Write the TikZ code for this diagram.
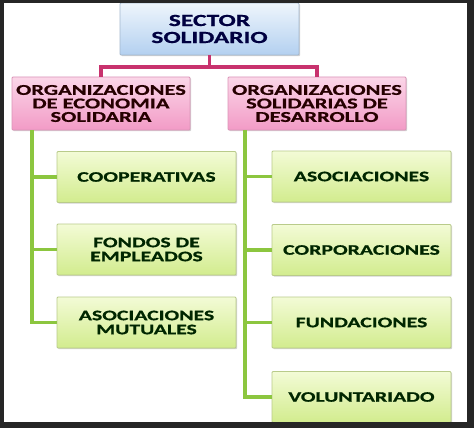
\documentclass[tikz,border=0pt]{standalone}
\usepackage{fontspec}
\setmainfont{Carlito}[FakeStretch=1.5, BoldFeatures={FakeBold=0.8}]
\usetikzlibrary{shadows}

\definecolor{bluetop}{HTML}{EEF5FC}
\definecolor{bluebot}{HTML}{B3D0F0}
\definecolor{pinktop}{HTML}{FBD6E8}
\definecolor{pinkbot}{HTML}{F29BC6}
\definecolor{greentop}{HTML}{F3FBD6}
\definecolor{greenbot}{HTML}{D2EC8E}
\definecolor{pinkline}{HTML}{C8326E}
\definecolor{greenline}{HTML}{8CC63F}

\tikzset{
  box/.style={draw, rounded corners=1pt, line width=0.8pt, align=center,
    inner sep=1pt, drop shadow={shadow xshift=1.2pt, shadow yshift=-1.2pt, opacity=.35}},
  topbox/.style={box, draw=bluebot!70!gray, top color=bluetop, bottom color=bluebot,
    minimum width=179pt, minimum height=52pt, text width=176pt, text=blue!25!black,
    font=\bfseries\fontsize{17}{17}\selectfont},
  midbox/.style={box, draw=pinkbot!80!gray, top color=pinktop, bottom color=pinkbot,
    minimum width=178pt, minimum height=53pt, text width=176pt, text=black!85!red,
    font=\bfseries\fontsize{15}{13.5}\selectfont},
  leafbox/.style={box, draw=greenbot!70!gray, top color=greentop, bottom color=greenbot,
    minimum width=179pt, minimum height=51pt, text width=176pt, text=green!15!black,
    font=\bfseries\fontsize{14.5}{14}\selectfont},
  pinkwire/.style={draw=pinkline, line width=3.4pt},
  greenwire/.style={draw=greenline, line width=3.4pt}
}

\begin{document}
\begin{tikzpicture}[x=1pt, y=-1pt]
    % frame
    \fill[black!85] (0, 0) rectangle (474, 428);
    \fill[white] (4, 3) rectangle (467, 422);

    \coordinate (split) at (209.5, 67);
    \coordinate (ltrunk) at (32, 130);
    \coordinate (rtrunk) at (245, 130);

    \node[topbox] (sector) at (209.5, 29) {SECTOR\\SOLIDARIO};
    \node[midbox] (oes) at (101, 103.5) {ORGANIZACIONES\\DE ECONOMIA\\SOLIDARIA};
    \node[midbox] (osd) at (317, 103.5) {ORGANIZACIONES\\SOLIDARIAS DE\\DESARROLLO};

    \node[leafbox] (coop) at (146.5, 177) {COOPERATIVAS};
    \node[leafbox] (fondos) at (146.5, 249.5) {FONDOS DE\\EMPLEADOS};
    \node[leafbox] (mutual) at (146.5, 322.5) {ASOCIACIONES\\MUTUALES};

    \node[leafbox] (asoc) at (361.5, 176.5) {ASOCIACIONES};
    \node[leafbox] (corp) at (361.5, 250) {CORPORACIONES};
    \node[leafbox] (fund) at (361.5, 322.5) {FUNDACIONES};
    \node[leafbox] (volun) at (361.5, 397) {VOLUNTARIADO};

    \path[pinkwire] (sector.south) -- (split) -| (oes.north);
    \path[pinkwire] (split) -| (osd.north);
    \foreach \leaf in {coop, fondos, mutual}
        \path[greenwire] (ltrunk) |- (\leaf.west);
    \foreach \leaf in {asoc, corp, fund, volun}
        \path[greenwire] (rtrunk) |- (\leaf.west);

    % keep the frame on top of the last box
    \fill[black!85] (0, 422) rectangle (474, 428);
    \fill[black!85] (467, 0) rectangle (474, 428);
    \fill[black!85] (0, 0) rectangle (474, 3);
\end{tikzpicture}
\end{document}
